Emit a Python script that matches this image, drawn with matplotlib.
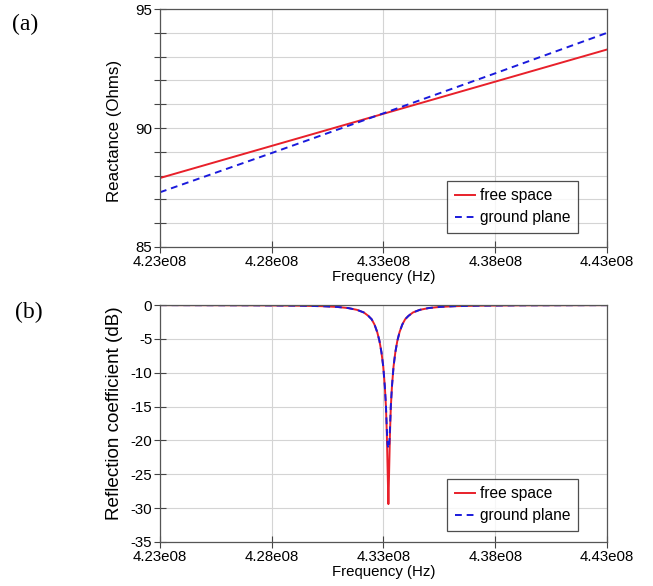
import numpy as np
import matplotlib
matplotlib.use('Agg')
import matplotlib.pyplot as plt
from matplotlib.ticker import MultipleLocator

plt.rcParams['font.family'] = ['Liberation Sans', 'DejaVu Sans']
plt.rcParams['axes.unicode_minus'] = False

# ---------- dados ----------
# (a) reatância vs frequência
freq_a = [4.23e8, 4.28e8, 4.33e8, 4.38e8, 4.43e8]
react_free = [87.9, 89.25, 90.6, 91.95, 93.3]
react_ground = [87.3, 88.95, 90.62, 92.3, 94.0]

# (b) coeficiente de reflexão (MHz, dB)
freq_b_mhz = [423.0, 427.22, 429.22, 430.22, 430.92, 431.42, 431.82, 432.12,
              432.32, 432.47, 432.6, 432.72, 432.82, 432.91, 432.99, 433.06,
              433.11, 433.15, 433.18, 433.22, 433.26, 433.29, 433.33, 433.38,
              433.45, 433.53, 433.62, 433.72, 433.84, 433.97, 434.12, 434.32,
              434.62, 435.02, 435.52, 436.22, 437.22, 439.22, 443.0]
refl_free = [-0.015, -0.045, -0.1, -0.17, -0.28, -0.45, -0.72, -1.1,
             -1.6, -2.1, -2.9, -4.0, -5.3, -7.0, -9.1, -12.0,
             -15.0, -19.0, -23.5, -29.4, -23.5, -19.0, -15.0, -12.0,
             -9.1, -7.0, -5.3, -4.0, -2.9, -2.1, -1.6, -1.1,
             -0.72, -0.45, -0.28, -0.17, -0.1, -0.045, -0.018]
refl_ground = [-0.015, -0.045, -0.1, -0.17, -0.28, -0.45, -0.72, -1.1,
               -1.6, -2.1, -2.9, -4.0, -5.3, -7.0, -9.1, -12.0,
               -14.8, -18.3, -20.5, -21.2, -20.5, -18.3, -14.8, -12.0,
               -9.1, -7.0, -5.3, -4.0, -2.9, -2.1, -1.6, -1.1,
               -0.72, -0.45, -0.28, -0.17, -0.1, -0.045, -0.018]

xticks = [4.23e8, 4.28e8, 4.33e8, 4.38e8, 4.43e8]
xticklabels = ['4.23e08', '4.28e08', '4.33e08', '4.38e08', '4.43e08']
# -------------------------------------------

RED = '#e8202a'
BLUE = '#1a1adc'
FS = 10.8


def style_axis(ax):
    ax.set_xlim(4.23e8, 4.43e8)
    ax.set_xticks(xticks)
    ax.set_xticklabels(xticklabels)
    ax.grid(True, which='both', color='#d4d4d4', lw=0.8)
    ax.set_axisbelow(True)
    for s in ax.spines.values():
        s.set_color('#555555')
        s.set_linewidth(0.9)
    ax.tick_params(which='both', direction='inout', length=9, width=0.8,
                   color='#444444', labelsize=FS, pad=1)
    ax.set_xlabel('Frequency (Hz)', fontsize=FS, labelpad=1)


def add_legend(ax, y0):
    leg = ax.legend(loc='lower right', bbox_to_anchor=(0.936, y0), fontsize=FS + 0.4,
                    frameon=True, fancybox=False, edgecolor='#222222',
                    handlelength=1.3, handletextpad=0.3, borderpad=0.5,
                    labelspacing=0.45, borderaxespad=0)
    leg.get_frame().set_linewidth(0.9)
    return leg


fig = plt.figure(figsize=(6.53, 5.86), dpi=100)

# painel (a)
ax1 = fig.add_axes([0.245, 0.5785, 0.6845, 0.406])
ax1.plot(freq_a, react_free, color=RED, lw=1.4, label='free space')
ax1.plot(freq_a, react_ground, color=BLUE, lw=1.4, ls=(0, (3.5, 2.5)), label='ground plane')
ax1.set_ylim(85, 95)
ax1.yaxis.set_major_locator(MultipleLocator(5))
ax1.yaxis.set_minor_locator(MultipleLocator(1))
style_axis(ax1)
ax1.set_ylabel('Reactance (Ohms)', fontsize=12.2)
ax1.yaxis.set_label_coords(-0.086, 0.487)
add_legend(ax1, 0.058)

# painel (b)
ax2 = fig.add_axes([0.245, 0.0751, 0.6845, 0.4044])
fb = np.array(freq_b_mhz) * 1e6
ax2.plot(fb, refl_free, color=RED, lw=1.4, label='free space')
ax2.plot(fb, refl_ground, color=BLUE, lw=1.4, ls=(0, (3.5, 2.5)), label='ground plane')
ax2.set_ylim(-35, 0)
ax2.yaxis.set_major_locator(MultipleLocator(5))
style_axis(ax2)
ax2.set_ylabel('Reflection coefficient (dB)', fontsize=13.6)
ax2.yaxis.set_label_coords(-0.082, 0.544)
add_legend(ax2, 0.046)

# rótulos dos painéis
fig.text(0.019, 0.959, '(a)', family='Liberation Serif', fontsize=17, va='center')
fig.text(0.023, 0.467, '(b)', family='Liberation Serif', fontsize=17, va='center')

fig.savefig('out.png', dpi=100)
